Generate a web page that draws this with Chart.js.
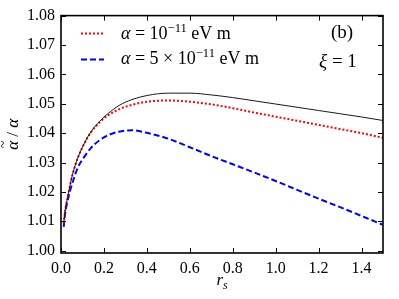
<!DOCTYPE html>
<html>
<head>
<meta charset="utf-8">
<script src="https://cdn.jsdelivr.net/npm/chart.js@4/dist/chart.umd.min.js"></script>
<style>
  body { margin: 0; background: #fff; }
  canvas { display: block; }
</style>
</head>
<body>
<canvas id="grafico" width="399" height="299"></canvas>
<script>
// r_s values where the curves are sampled
const rs = [0.0126, 0.02, 0.031, 0.042, 0.054, 0.078, 0.109, 0.14, 0.18, 0.22, 0.27, 0.33, 0.4, 0.5, 0.6, 0.7, 0.8, 0.9, 1.0, 1.1, 1.2, 1.3, 1.4, 1.5];
// thin black curve (no label)
const curvaNegra = [1.0092, 1.0140, 1.0181, 1.0222, 1.0260, 1.0315, 1.0366, 1.0405, 1.0440, 1.0467, 1.0494, 1.0514, 1.0528, 1.0536, 1.0536, 1.0530, 1.0521, 1.0510, 1.0499, 1.0488, 1.0477, 1.0466, 1.0455, 1.0443];
// alpha = 1e-11 eV m (red dotted)
const alfa1 = [1.0092, 1.0140, 1.0181, 1.0222, 1.0260, 1.0315, 1.0365, 1.0403, 1.0437, 1.0461, 1.0481, 1.0496, 1.0507, 1.0511, 1.0507, 1.0498, 1.0485, 1.0470, 1.0456, 1.0442, 1.0428, 1.0414, 1.0400, 1.0384];
// alpha = 5e-11 eV m (blue dashed)
const alfa5 = [1.0081, 1.0130, 1.0170, 1.0203, 1.0232, 1.0282, 1.0320, 1.0350, 1.0376, 1.0393, 1.0405, 1.0410, 1.0401, 1.0381, 1.0352, 1.0322, 1.0294, 1.0266, 1.0237, 1.0207, 1.0177, 1.0148, 1.0118, 1.0088];

const xTicks = [0.0, 0.2, 0.4, 0.6, 0.8, 1.0, 1.2, 1.4];
const yTicks = [1.00, 1.01, 1.02, 1.03, 1.04, 1.05, 1.06, 1.07, 1.08];

const serif = 'Liberation Serif, DejaVu Serif, serif';
Chart.defaults.font.family = serif;
Chart.defaults.color = '#000';

const puntos = (ys) => rs.map((x, i) => ({ x: x, y: ys[i] }));

// draws a run of text pieces: {t, it (italic), sup, sub}
const textoMate = (ctx, partes, x, y, size) => {
  let cx = x;
  partes.forEach(p => {
    const s = (p.sup || p.sub) ? size * 0.7 : size;
    ctx.font = (p.it ? 'italic ' : '') + s + 'px ' + serif;
    const dy = p.sup ? -size * 0.4 : (p.sub ? size * 0.22 : 0);
    ctx.fillText(p.t, cx, y + dy);
    cx += ctx.measureText(p.t).width;
  });
  return cx - x;
};

const anchoMate = (ctx, partes, size) => {
  let w = 0;
  partes.forEach(p => {
    const s = (p.sup || p.sub) ? size * 0.7 : size;
    ctx.font = (p.it ? 'italic ' : '') + s + 'px ' + serif;
    w += ctx.measureText(p.t).width;
  });
  return w;
};

const leyendas = [
  [{ t: 'α', it: true }, { t: ' = 10' }, { t: '−11', sup: true }, { t: ' eV m' }],
  [{ t: 'α', it: true }, { t: ' = 5 × 10' }, { t: '−11', sup: true }, { t: ' eV m' }]
];

const marco = {
  id: 'marco',
  afterDraw(chart) {
    const { ctx, chartArea: a, scales: { x, y } } = chart;
    ctx.save();
    ctx.strokeStyle = '#000';
    ctx.lineWidth = 1;
    const linea = (x0, y0, x1, y1) => { ctx.beginPath(); ctx.moveTo(x0, y0); ctx.lineTo(x1, y1); ctx.stroke(); };
    // inward ticks on all four sides
    xTicks.forEach(v => {
      const px = Math.round(x.getPixelForValue(v)) + 0.5;
      linea(px, a.bottom, px, a.bottom - 5);
      linea(px, a.top, px, a.top + 5);
    });
    yTicks.forEach(v => {
      const py = Math.round(y.getPixelForValue(v)) + 0.5;
      linea(a.left, py, a.left + 5, py);
      linea(a.right, py, a.right - 5, py);
    });
    ctx.lineWidth = 1.6;
    ctx.strokeRect(a.left, a.top, a.right - a.left, a.bottom - a.top);

    // legend (upper left, inside)
    ctx.fillStyle = '#000';
    ctx.textBaseline = 'alphabetic';
    [1, 2].forEach((k, i) => {
      const ds = chart.data.datasets[k];
      const yy = 33.5 + i * 26;
      ctx.strokeStyle = ds.borderColor;
      ctx.lineWidth = ds.borderWidth;
      ctx.setLineDash(ds.borderDash);
      linea(81, yy, 104, yy);
      ctx.setLineDash([]);
      textoMate(ctx, leyendas[i], 121, 39 + i * 25, 18);
    });

    // panel annotations
    ctx.textAlign = 'left';
    textoMate(ctx, [{ t: '(b)' }], 331, 38, 19);
    textoMate(ctx, [{ t: 'ξ', it: true }, { t: ' = 1' }], 319, 67, 19);

    // axis titles
    const tx = [{ t: 'r', it: true }, { t: 's', it: true, sub: true }];
    const wx = anchoMate(ctx, tx, 17);
    textoMate(ctx, tx, (a.left + a.right) / 2 - wx / 2, 285, 17);

    ctx.translate(18, (a.top + a.bottom) / 2);
    ctx.rotate(-Math.PI / 2);
    const ty = [{ t: 'α', it: true }, { t: ' / ' }, { t: 'α', it: true }];
    const wy = anchoMate(ctx, ty, 17);
    textoMate(ctx, ty, -wy / 2, 0, 17);
    // tilde over the first alpha
    ctx.font = '14px ' + serif;
    ctx.fillText('~', -wy / 2 + 1.5, -10);
    ctx.restore();
  }
};

new Chart(document.getElementById('grafico'), {
  type: 'line',
  data: {
    datasets: [
      {
        label: 'negra',
        data: puntos(curvaNegra),
        borderColor: '#1a1a1a',
        borderWidth: 1,
        pointRadius: 0,
        cubicInterpolationMode: 'monotone'
      },
      {
        label: 'alfa 1e-11',
        data: puntos(alfa1),
        borderColor: '#ff0000',
        borderWidth: 2,
        borderDash: [2, 2],
        pointRadius: 0,
        cubicInterpolationMode: 'monotone'
      },
      {
        label: 'alfa 5e-11',
        data: puntos(alfa5),
        borderColor: '#0000ff',
        borderWidth: 2,
        borderDash: [6, 3],
        pointRadius: 0,
        cubicInterpolationMode: 'monotone'
      }
    ]
  },
  options: {
    responsive: false,
    animation: false,
    layout: { padding: { top: 12, right: 16, left: 0, bottom: 0 } },
    plugins: { legend: { display: false }, tooltip: { enabled: false } },
    scales: {
      x: {
        type: 'linear',
        min: 0,
        max: 1.5,
        grid: { display: false, drawTicks: false },
        border: { display: false },
        afterBuildTicks: (s) => { s.ticks = xTicks.map(v => ({ value: v })); },
        afterFit: (s) => { s.height = 46; },
        ticks: {
          padding: 6,
          color: '#000',
          maxRotation: 0,
          font: { family: serif, size: 16 },
          callback: (v) => Number(v).toFixed(1)
        }
      },
      y: {
        type: 'linear',
        min: 0.9992,
        max: 1.08,
        grid: { display: false, drawTicks: false },
        border: { display: false },
        afterBuildTicks: (s) => { s.ticks = yTicks.map(v => ({ value: v })); },
        afterFit: (s) => { s.width = 61; },
        ticks: {
          padding: 6,
          color: '#000',
          font: { family: serif, size: 16 },
          callback: (v) => Number(v).toFixed(2)
        }
      }
    }
  },
  plugins: [marco]
});
</script>
</body>
</html>
